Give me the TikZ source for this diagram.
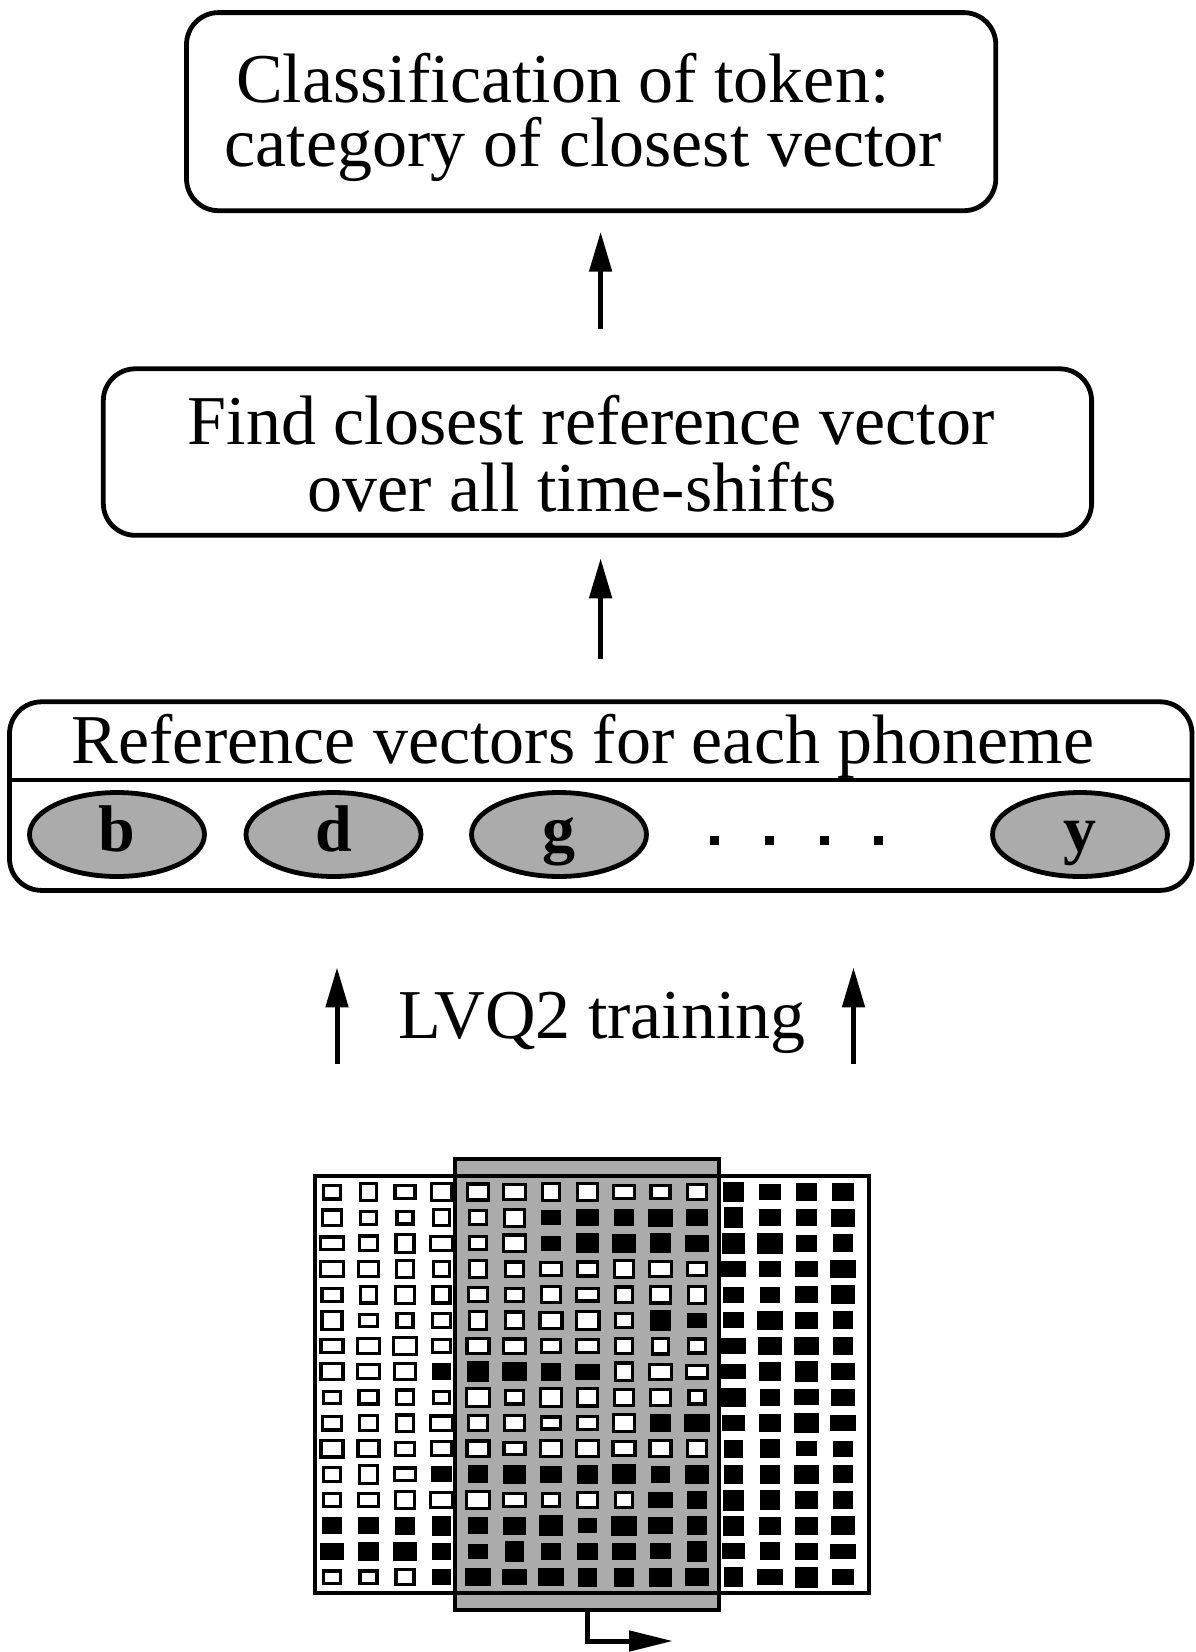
\documentclass[tikz,border=0pt]{standalone}
\usepackage{fontspec}
\setmainfont{Liberation Serif}
\usetikzlibrary{arrows.meta,shapes.geometric}

\begin{document}
\begin{tikzpicture}[x=1pt,y=-1pt,
  box/.style={draw, line width=4.8pt, rounded corners=32pt, inner sep=0pt, outer sep=0pt},
  boxtext/.style={anchor=base west, inner sep=0pt, font=\fontsize{70}{70}\selectfont},
  arr/.style={line width=5pt, -{Triangle[length=40pt,width=22pt]}},
  stubarr/.style={line width=5pt, -{Triangle[length=44pt,width=20pt]}},
  phon/.style={ellipse, draw, line width=4.8pt, fill=black!33, minimum width=175pt,
    minimum height=84pt, inner sep=0pt, text height=44pt, text depth=11pt,
    font=\fontsize{66}{66}\selectfont\bfseries},
  dotsq/.style={fill, minimum size=9pt, inner sep=0pt},
  framebox/.style={line width=4.5pt, inner sep=0pt, outer sep=0pt},
  opencell/.style={line width=3.2pt, fill=white},
]
\useasboundingbox (0,0) rectangle (1196,1652);
\fill[white] (0,0) rectangle (1196,1652);

% columns used by the arrows
\coordinate (ax) at (600.6,0);
\coordinate (lx) at (337,0);
\coordinate (rx) at (853.5,0);

% classification box
\node[box, minimum width=809.3pt, minimum height=198.1pt] (cls) at (591.15,111.65) {};
\node[boxtext] (clsA) at (236,102) {Classification of token:};
\node[boxtext] (clsB) at (224.5,166.5) {category of closest vector};

% search box
\node[box, minimum width=988.3pt, minimum height=166.5pt] (find) at (597.45,452.05) {};
\node[boxtext] (findA) at (187.6,444.7) {Find closest reference vector};
\node[boxtext] (findB) at (307.7,511) {over all time-shifts};

% reference vector store
\node[box, minimum width=1182.5pt, minimum height=188.6pt] (refbox) at (600.75,796.1) {};
\draw[line width=4pt] (refbox.west |- 0,779.7) -- (refbox.east |- 0,779.7);
\node[boxtext] (refA) at (71.7,763) {Reference vectors for each phoneme};
\node[phon] (pb) at (117,834.5) {b};
\node[phon] (pd) at (333.5,834.5) {d};
\node[phon] (pg) at (559,834.5) {g};
\node[phon] (py) at (1080,834.5) {y};
\node[dotsq] (d1) at (714,840) {};
\node[dotsq] (d2) at (769,840) {};
\node[dotsq] (d3) at (824,840) {};
\node[dotsq] (d4) at (878,840) {};

% arrows between the stages
\draw[arr, shorten <=40pt, shorten >=21pt] (find.north -| ax) -- (cls.south -| ax);
\draw[arr, shorten <=43pt, shorten >=23pt] (refbox.north -| ax) -- (find.south -| ax);

% input pattern: full token and the time-shifted window
\node[framebox, draw, fill=white, minimum width=554pt, minimum height=417pt] (spec) at (592,1384.5) {};
\node[framebox, draw, fill=black!33, minimum width=264pt, minimum height=451pt] (win) at (587,1384.5) {};
\draw[framebox] (spec.north west) rectangle (spec.south east);

\draw[arr, shorten <=95pt, shorten >=77pt] (win.north -| lx) -- (refbox.south -| lx);
\draw[arr, shorten <=95pt, shorten >=77pt] (win.north -| rx) -- (refbox.south -| rx);
\node[boxtext] (lvq) at (398,1038) {LVQ2 training};

% cell values: 1 = filled, 0 = open
\pgfmathsetseed{42}
\foreach \rowbits [count=\j from 0] in {
  {0,0,0,0, 0,0,0,0,0,0,0, 1,1,1,1},
  {0,0,0,0, 0,0,1,1,1,1,1, 1,1,1,1},
  {0,0,0,0, 0,0,1,1,1,1,1, 1,1,1,1},
  {0,0,0,0, 0,0,0,0,0,0,0, 1,1,1,1},
  {0,0,0,0, 0,0,0,0,0,0,0, 1,1,1,1},
  {0,0,0,0, 0,0,0,0,0,1,1, 1,1,1,1},
  {0,0,0,0, 0,0,0,0,0,0,0, 1,1,1,1},
  {0,0,0,1, 1,1,1,1,0,0,0, 1,1,1,1},
  {0,0,0,0, 0,0,0,0,0,0,0, 1,1,1,1},
  {0,0,0,0, 0,0,0,0,0,1,1, 1,1,1,1},
  {0,0,0,0, 0,0,0,0,0,0,0, 1,1,1,1},
  {0,0,0,1, 1,1,1,1,1,1,1, 1,1,1,1},
  {0,0,0,0, 0,0,0,0,0,1,1, 1,1,1,1},
  {1,1,1,1, 1,1,1,1,1,1,1, 1,1,1,1},
  {1,1,1,1, 1,1,1,1,1,1,1, 1,1,1,1},
  {0,0,0,1, 1,1,1,1,1,1,1, 1,1,1,1}} {
  \foreach \bit [count=\i from 0] in \rowbits {
    \pgfmathsetmacro\cx{332+36.5*\i}
    \pgfmathsetmacro\cy{1192+25.67*\j}
    \pgfmathsetmacro\cw{19+7*rnd}
    \pgfmathsetmacro\ch{15+6*rnd}
    \ifnum\bit=1
      \fill (\cx-\cw/2,\cy-\ch/2) rectangle ++(\cw,\ch);
    \else
      \draw[opencell] (\cx-\cw/2+1.6,\cy-\ch/2+1.6) rectangle ++(\cw-3.2,\ch-3.2);
    \fi
  }
}

% shift direction of the window
\coordinate (stubtip) at (673,1641);
\draw[stubarr] (win.south) |- (stubtip);
\end{tikzpicture}
\end{document}
